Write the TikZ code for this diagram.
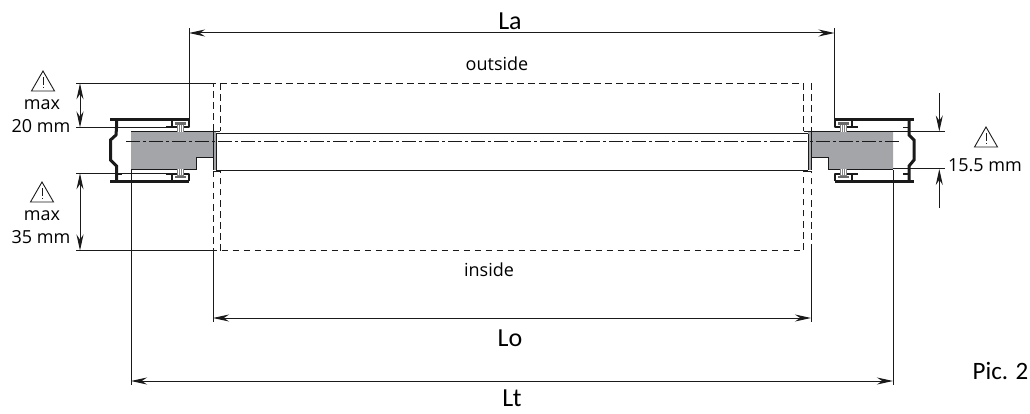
\documentclass[tikz,border=0pt]{standalone}
\usepackage{fontspec}
\setmainfont{Carlito}
\newfontfamily\smallfont{Open Sans}
\usetikzlibrary{arrows.meta}
\definecolor{ink}{HTML}{1A1A1A}
\definecolor{fillgray}{HTML}{A3A5A8}
\tikzset{
  x=1pt,y=-1pt,
  thinline/.style={draw=ink,line width=1pt},
  hairline/.style={draw=ink,line width=0.8pt},
  heavy/.style={draw=ink,line width=3pt},
  dim/.style={thinline,{Stealth[length=16pt,width=7pt]}-{Stealth[length=16pt,width=7pt]}},
  dimend/.style={thinline,-{Stealth[length=16pt,width=7pt]}},
  dashline/.style={draw=ink,line width=1pt,dash pattern=on 6.5pt off 4.5pt},
  center/.style={draw=ink,line width=0.9pt,dash pattern=on 14pt off 3pt on 3pt off 3pt},
  bigtext/.style={font=\fontsize{26}{28}\selectfont,inner sep=0pt},
  midtext/.style={font=\fontsize{25}{27}\selectfont,inner sep=0pt},
  smalltext/.style={font=\smallfont\fontsize{18}{20}\selectfont,inner sep=0pt},
  warn/.pic={
    \draw[draw=ink,line width=0.9pt,line join=miter] (-11.5,10)--(0,-10)--(11.5,10)--cycle;
    \draw[draw=ink,line width=0.8pt] (0,-4)--(0,4.5) (0,6)--(0,7.5);
  },
  hw/.pic={
    % top bracket: origin at the outer corner of the frame, the housing lies toward negative x
    \draw[draw=ink,line width=2.4pt,line join=round] (-23,7.5)--(-17,7.5) (-17,0)--(-17,7.5) (-17,7.5)--(-11,7.5) (-5,7.5)--(0,7.5)--(0,0);
    \fill[ink!65] (-14,3) rectangle (-3,5.5);
    \fill[ink!55] (-12,5.5) rectangle (-5,12.5);
    \draw[draw=white,line width=0.6pt] (-10.3,6)--(-10.3,12.5) (-8.5,6)--(-8.5,12.5) (-6.7,6)--(-6.7,12.5);
  }
}
\begin{document}
\begin{tikzpicture}
\useasboundingbox (0,0) rectangle (1030,414);
% coordinates
\coordinate (laL) at (189,33); \coordinate (laR) at (834.5,33);
\coordinate (laLb) at (189,119); \coordinate (laRb) at (834.5,119);
\coordinate (loL) at (213,318); \coordinate (loR) at (811,318);
\coordinate (loLt) at (213,250.5); \coordinate (loRt) at (811,250.5);
\coordinate (ltL) at (131,381); \coordinate (ltR) at (893,381);
\coordinate (ltLt) at (131,170); \coordinate (ltRt) at (893,170);
% gray blocks
\fill[fillgray] (131,131.5)--(213,131.5)--(213,157.5)--(196,157.5)--(196,169.5)--(131,169.5)--cycle;
\fill[fillgray] (213,131.5) rectangle (216,170.5);
\fill[fillgray] (893,131.5)--(811,131.5)--(811,157.5)--(828,157.5)--(828,169.5)--(893,169.5)--cycle;
\fill[fillgray] (808,131.5) rectangle (811,170.5);
\draw[hairline] (131,131.5)--(213,131.5) (893,131.5)--(811,131.5);
\draw[hairline] (196,157.5)--(213,157.5) (196,157.5)--(196,169.5)--(131,169.5);
\draw[hairline] (811,157.5)--(828,157.5)--(828,169.5)--(893,169.5);
% pane
\draw[thinline] (216,134)--(808,134) (216,170.5)--(808,170.5);
\draw[thinline] (216,134)--(216,170.5) (808,134)--(808,170.5);
\draw[hairline] (213,131.5)--(213,170.5) (811,131.5)--(811,170.5);
\draw[hairline] (213,131.5)--(220,131.5) (804,131.5)--(811,131.5);
\draw[hairline] (213,171)--(220,171) (804,171)--(811,171);
\draw[center] (126,141)--(899,141);
% dashed opening
\draw[dashline] (213,131)--(213,83.3)--(803.5,83.3)--(803.5,131);
\draw[dashline] (220.3,83.3)--(220.3,131) (811,83.3)--(811,131);
\draw[dashline] (213,171)--(213,250.5)--(803.5,250.5)--(803.5,171);
\draw[dashline] (220.3,250.5)--(220.3,171) (811,250.5)--(811,171);
% left frame
\draw[heavy,line join=round] (110,119.5)--(189,119.5);
\draw[heavy,line join=round] (110,181.5)--(189,181.5);
\draw[heavy,line join=miter] (116.5,119.5)--(116.5,128)--(116,135)--(110.5,140)--(110.5,160)--(116.5,166)--(116.5,181.5);
\draw[draw=ink,line width=1.8pt] (116.5,127.5)--(122,127.5) (116.5,174)--(122,174);
% right frame
\draw[heavy,line join=round] (835,119.5)--(914,119.5);
\draw[heavy,line join=round] (835,181.5)--(914,181.5);
\draw[heavy,line join=miter] (909,119.5)--(909,128)--(909,135)--(914,140)--(914,160)--(909,166)--(909,181.5);
\draw[draw=ink,line width=1.8pt] (903,127.5)--(909,127.5) (903,174)--(909,174);
% hardware
\pic at (189,119.5) {hw};
\pic[yscale=-1] at (189,181.5) {hw};
\pic[xscale=-1] at (835,119.5) {hw};
\pic[xscale=-1,yscale=-1] at (835,181.5) {hw};
% extension lines
\draw[thinline] (76,83.3)--(213,83.3);
\draw[thinline] (76,127.5)--(166,127.5);
\draw[thinline] (76,173.3)--(166,173.3);
\draw[thinline] (76,250.5)--(213,250.5);
\draw[thinline] (laLb)--(189,28);
\draw[thinline] (laRb)--(834.5,28);
\draw[thinline] (loLt)--(213,322);
\draw[thinline] (loRt)--(811,322);
\draw[thinline] (ltLt)--(131,385);
\draw[thinline] (ltRt)--(893,385);
\draw[thinline] (893,131.5)--(945,131.5) (893,169)--(945,169);
% dimensions
\draw[dim] (laL)--(laR);
\draw[dim] (loL)--(loR);
\draw[dim] (ltL)--(ltR);
\coordinate (a1) at (80,83.3); \coordinate (a2) at (80,127.5);
\coordinate (a3) at (80,173.3); \coordinate (a4) at (80,250.5);
\draw[dim] (a1)--(a2);
\draw[dim] (a3)--(a4);
\coordinate (b1) at (939.3,93); \coordinate (b2) at (939.3,131.5);
\coordinate (b3) at (939.3,208); \coordinate (b4) at (939.3,169);
\draw[dimend] (b1)--(b2);
\draw[dimend] (b3)--(b4);
% text
\node[bigtext] (tLa) at (510,21) {La};
\node[bigtext] (tLo) at (510,338) {Lo};
\node[bigtext] (tLt) at (512,398) {Lt};
\node[midtext] (tPic) at (1000.5,371) {Pic. 2};
\node[smalltext] (tout) at (497,64) {outside};
\node[smalltext] (tin) at (489,270) {inside};
\node[smalltext] (tmax1) at (42,105) {max};
\node[smalltext] (t20) at (41,126) {20 mm};
\node[smalltext] (tmax2) at (42,216) {max};
\node[smalltext] (t35) at (41,237) {35 mm};
\node[smalltext] (t15) at (985,165) {15.5 mm};
\pic at (43,81) {warn};
\pic at (42,192) {warn};
\pic at (986,137) {warn};
\end{tikzpicture}
\end{document}
